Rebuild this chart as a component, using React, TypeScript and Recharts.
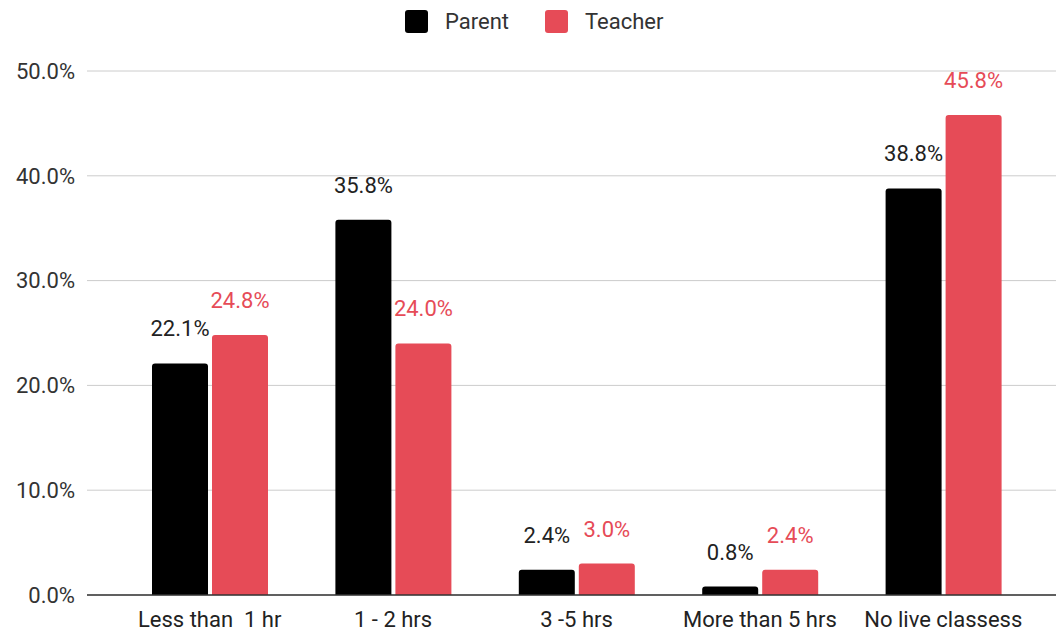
import { BarChart, Bar, XAxis, YAxis, CartesianGrid, LabelList } from "recharts";

const categories = ["Less than\u00a0 1 hr", "1 - 2 hrs", "3 -5 hrs", "More than 5 hrs", "No live classess"];
const parentValues = [22.1, 35.8, 2.4, 0.8, 38.8];
const teacherValues = [24.8, 24.0, 3.0, 2.4, 45.8];
const yTicks = [0, 10, 20, 30, 40, 50];

const PARENT_COLOR = "#000000";
const TEACHER_COLOR = "#E64B57";
const FONT = "Roboto, 'Noto Sans', sans-serif";
const FONT_SIZE = 22;

const data = categories.map((name, i) => ({
  name,
  parent: parentValues[i],
  teacher: teacherValues[i],
}));

const pct = (v: number) => `${v.toFixed(1)}%`;

const LegendItem = ({ color, label, gap }: { color: string; label: string; gap: number }) => (
  <div style={{ display: "flex", alignItems: "center", marginRight: gap }}>
    <div style={{ width: 23, height: 23, borderRadius: 3, background: color, marginRight: 17 }} />
    <span style={{ fontSize: FONT_SIZE, color: "#333", lineHeight: "23px" }}>{label}</span>
  </div>
);

export default function App() {
  return (
    <div style={{ position: "relative", width: 1056, height: 635, fontFamily: FONT, background: "#fff" }}>
      <style>{"body{margin:0}"}</style>
      <div style={{ position: "absolute", top: 10, left: 405, display: "flex" }}>
        <LegendItem color={PARENT_COLOR} label="Parent" gap={36} />
        <LegendItem color={TEACHER_COLOR} label="Teacher" gap={0} />
      </div>
      <BarChart
        width={1056}
        height={635}
        data={data}
        margin={{ top: 71, right: 0, bottom: 0, left: 0 }}
        barSize={56}
        barGap={4}
      >
        <CartesianGrid vertical={false} stroke="#cccccc" />
        <XAxis
          dataKey="name"
          height={40}
          padding={{ left: 31, right: 21 }}
          tickLine={false}
          tickSize={0}
          tickMargin={16}
          axisLine={{ stroke: "#333", strokeWidth: 1.5 }}
          tick={{ fill: "#222", fontSize: FONT_SIZE, fontFamily: FONT }}
          interval={0}
        />
        <YAxis
          width={87}
          domain={[0, 50]}
          ticks={yTicks}
          tickFormatter={pct}
          tickLine={false}
          tickSize={0}
          tickMargin={12}
          axisLine={false}
          tick={{ fill: "#333", fontSize: FONT_SIZE, fontFamily: FONT }}
        />
        <Bar dataKey="parent" fill={PARENT_COLOR} radius={[3, 3, 0, 0]} isAnimationActive={false}>
          <LabelList dataKey="parent" position="top" offset={27} formatter={pct} fill="#222" fontSize={FONT_SIZE} fontFamily={FONT} />
        </Bar>
        <Bar dataKey="teacher" fill={TEACHER_COLOR} radius={[3, 3, 0, 0]} isAnimationActive={false}>
          <LabelList dataKey="teacher" position="top" offset={27} formatter={pct} fill={TEACHER_COLOR} fontSize={FONT_SIZE} fontFamily={FONT} />
        </Bar>
      </BarChart>
    </div>
  );
}
